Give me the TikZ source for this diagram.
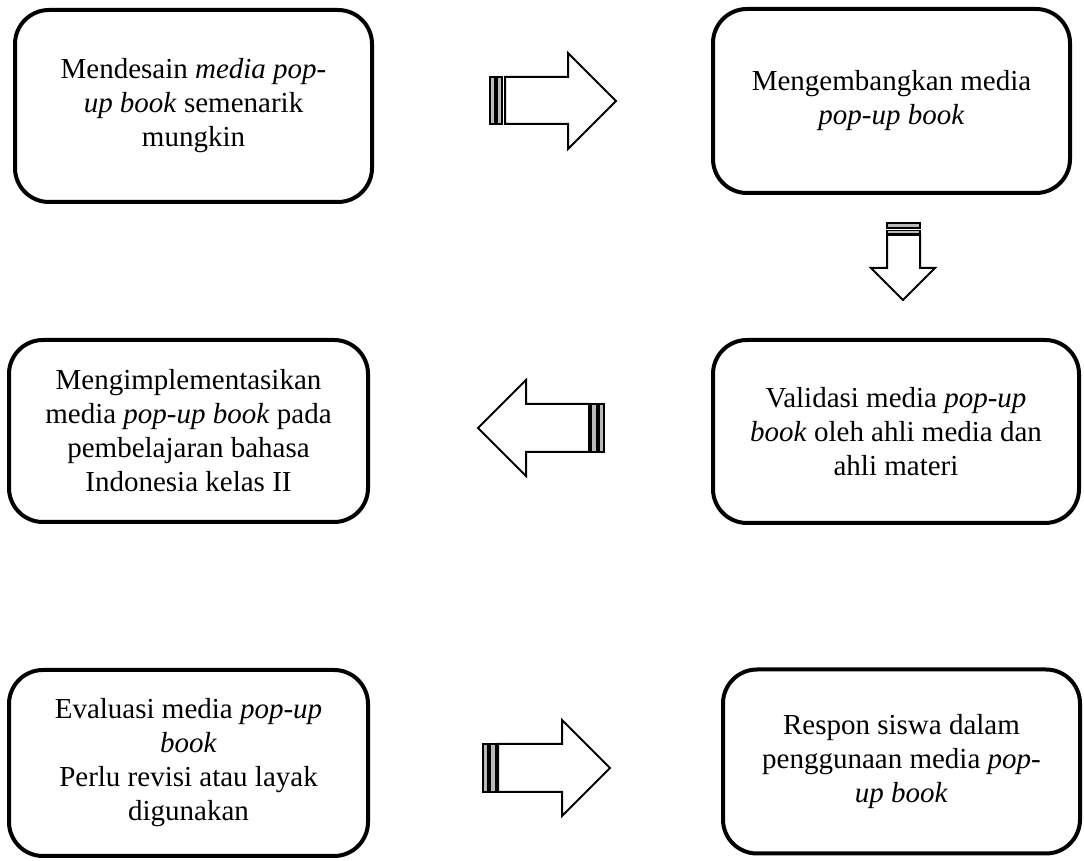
\documentclass[tikz,border=0pt]{standalone}
\usepackage{fontspec}
\setmainfont{Liberation Serif}
\begin{document}
\begin{tikzpicture}[x=0.5pt,y=-0.5pt,
  box/.style={draw, line width=2pt, rounded corners=17pt, align=center, inner sep=0pt,
              font=\fontsize{14.5}{17}\selectfont},
  blockarrow/.style={draw, line width=1pt, fill=white, line join=miter},
  stripe/.style={draw, line width=0.6pt, fill=gray!55}]
\useasboundingbox (0,0) rectangle (1084,861);

\node[box, minimum width=178.5pt, minimum height=96pt] (b1) at (193.5,106)
  {Mendesain \textit{media pop-}\\\textit{up book} semenarik\\mungkin};
\node[box, minimum width=178.5pt, minimum height=92pt] (b2) at (891.5,101)
  {Mengembangkan media\\\textit{pop-up book}};
\node[box, minimum width=183pt, minimum height=91.5pt] (b3) at (896,431.5)
  {Validasi media \textit{pop-up}\\\textit{book} oleh ahli media dan\\ahli materi};
\node[box, minimum width=179.5pt, minimum height=91pt] (b4) at (188.5,431)
  {Mengimplementasikan\\media \textit{pop-up book} pada\\pembelajaran bahasa\\Indonesia kelas II};
\node[box, minimum width=179.5pt, minimum height=93pt] (b5) at (188.5,763)
  {Evaluasi media \textit{pop-up}\\\textit{book}\\Perlu revisi atau layak\\digunakan};
\node[box, minimum width=178.5pt, minimum height=92pt] (b6) at (901.5,761.5)
  {Respon siswa dalam\\penggunaan media \textit{pop-}\\\textit{up book}};

% arrow 1 (right)
\draw[stripe] (490,77) rectangle (495,124);
\draw[stripe] (497,77) rectangle (502,124);
\draw[blockarrow] (505,77) -- (568,77) -- (568,53) -- (616,101) -- (568,149) -- (568,124) -- (505,124) -- cycle;

% arrow 2 (down)
\draw[stripe] (887,223) rectangle (920,228);
\draw[stripe] (887,230.5) rectangle (920,234);
\draw[blockarrow] (887,235) -- (887,268) -- (871,268) -- (903,300) -- (935,268) -- (920,268) -- (920,235) -- cycle;

% arrow 3 (left)
\draw[blockarrow] (589,404) -- (526,404) -- (526,380) -- (478,428) -- (526,476) -- (526,452) -- (589,452) -- cycle;
\draw[stripe] (591,404) rectangle (597,452);
\draw[stripe] (599,404) rectangle (604,452);

% arrow 4 (right, bottom)
\draw[stripe] (483,744) rectangle (488,792);
\draw[stripe] (490,744) rectangle (496,792);
\draw[blockarrow] (498,744) -- (562,744) -- (562,720) -- (610,768) -- (562,816) -- (562,792) -- (498,792) -- cycle;
\end{tikzpicture}
\end{document}
